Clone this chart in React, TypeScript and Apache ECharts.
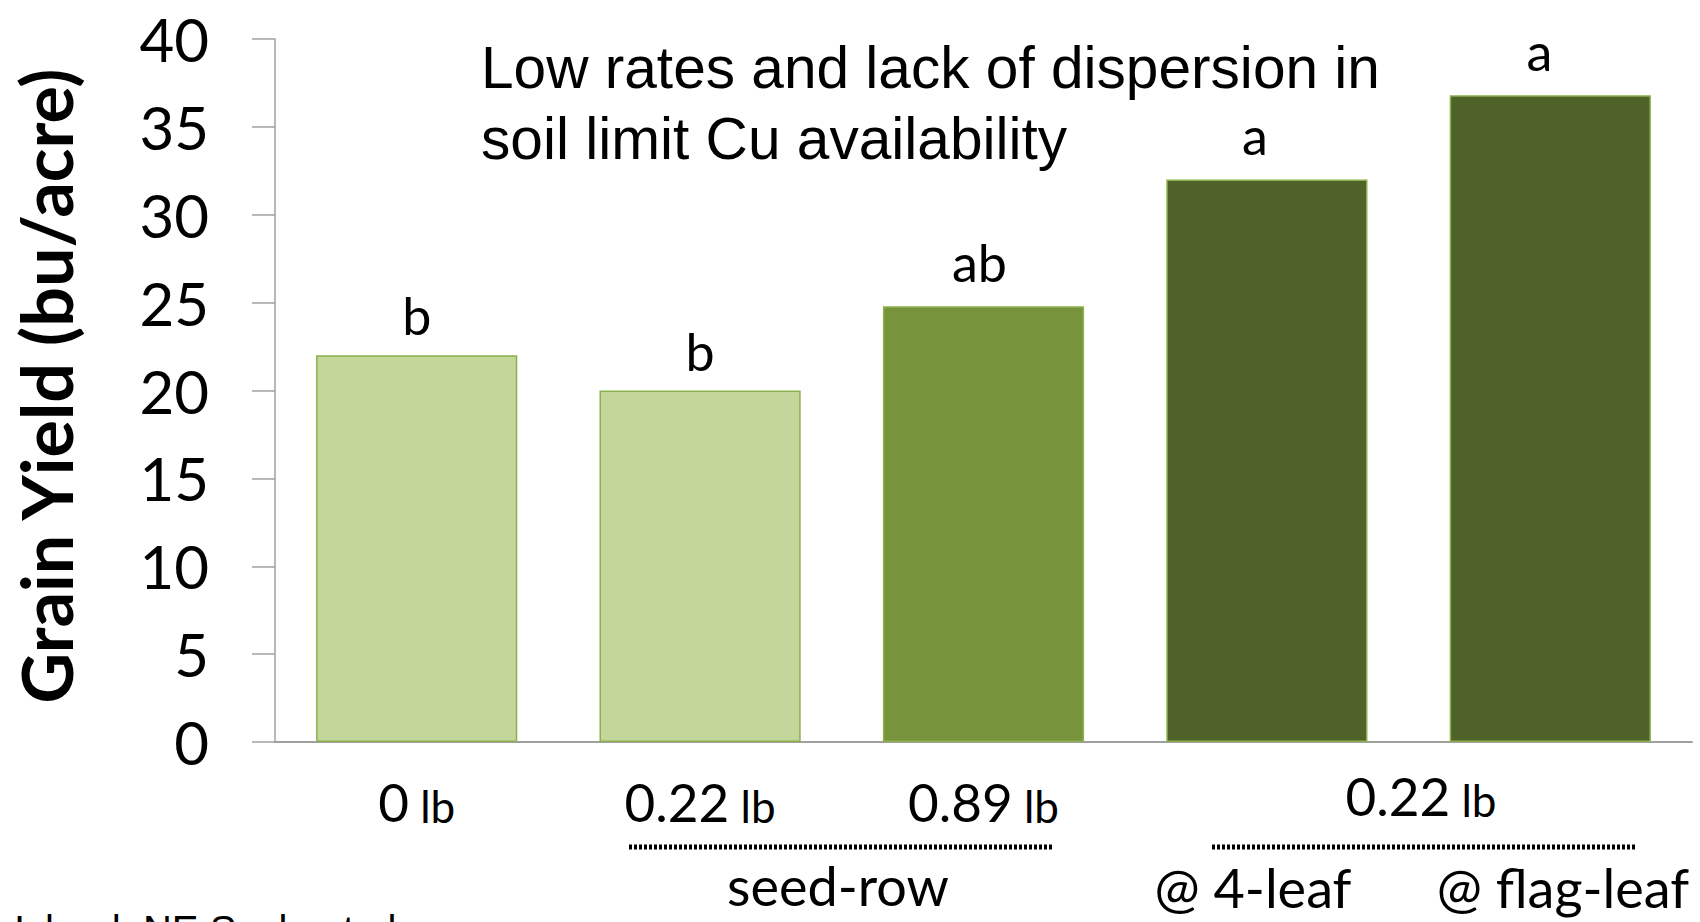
import React, { useEffect, useRef } from "react";
import * as echarts from "echarts";

const categories = ["0 lb", "0.22 lb", "0.89 lb", "0.22 lb @ 4-leaf", "0.22 lb @ flag-leaf"];
const rateNumbers = ["0", "0.22", "0.89", "", ""];
const rateUnit = "lb";
const yields = [22, 20, 24.8, 32, 36.8];
const letters = ["b", "b", "ab", "a", "a"];
const barColors = ["#C4D79B", "#C4D79B", "#77933C", "#4F6228", "#4F6228"];
const yMin = 0;
const yMax = 40;
const yStep = 5;
const yTitle = "Grain Yield (bu/acre)";
const titleLines = ["Low rates and lack of dispersion in", "soil limit Cu availability"];
const groupRateNumber = "0.22";
const seedRowLabel = "seed-row";
const foliarLabels = ["@ 4-leaf", "@ flag-leaf"];
const sourceNote = "Island, NE Sask. et al.";

const CAL = 'Lato, "Open Sans", sans-serif';
const ARIAL = '"Liberation Sans", Arial, sans-serif';

const richRate = {
  n: { fontFamily: CAL, fontSize: 53, color: "#000", fill: "#000", verticalAlign: "bottom", lineHeight: 60 },
  u: { fontFamily: CAL, fontSize: 44, color: "#000", fill: "#000", verticalAlign: "bottom", lineHeight: 60 },
};

const labelOffsets = [[0, 0], [0, 0], [-4, -4], [-12, -5], [-11, -4]];

export default function App() {
  const ref = useRef<HTMLDivElement>(null);
  useEffect(() => {
    if (!ref.current) return;
    const chart = echarts.init(ref.current, null, { renderer: "svg" });
    const option: any = {
      animation: false,
      backgroundColor: "#ffffff",
      grid: { left: 275, right: 8, top: 39, bottom: 180, containLabel: false },
      xAxis: {
        type: "category",
        data: categories,
        axisLine: { show: true, lineStyle: { color: "#A0A0A0", width: 2 } },
        axisTick: { show: false },
        axisLabel: {
          interval: 0,
          margin: 26,
          formatter: (_v: string, i: number) =>
            rateNumbers[i] ? `{n|${rateNumbers[i]}}{u|\u00a0${rateUnit}}` : "",
          rich: richRate,
        },
      },
      yAxis: {
        type: "value",
        min: yMin,
        max: yMax,
        interval: yStep,
        axisLine: { show: true, lineStyle: { color: "#A0A0A0", width: 1.5 } },
        axisTick: { show: true, length: 23, lineStyle: { color: "#A0A0A0", width: 1.5 } },
        splitLine: { show: false },
        axisLabel: { fontFamily: CAL, fontSize: 60, color: "#000", margin: 66 },
      },
      series: [
        {
          type: "bar",
          barCategoryGap: "29%",
          data: yields.map((v, i) => ({
            value: v,
            itemStyle: { color: barColors[i], borderColor: "#8DB04E", borderWidth: 1.5 },
            label: { formatter: letters[i], offset: labelOffsets[i] },
          })),
          label: {
            show: true,
            position: "top",
            distance: 14,
            fontFamily: CAL,
            fontSize: 52,
            color: "#000",
          },
        },
      ],
      graphic: [
        {
          type: "text", x: 46, y: 386, rotation: Math.PI / 2,
          style: { text: yTitle, font: `bold 70px ${CAL}`, fill: "#000", align: "center", verticalAlign: "middle" },
        },
        { type: "text", left: 481, top: 38, style: { text: titleLines[0], font: `58.6px ${ARIAL}`, fill: "#000" } },
        { type: "text", left: 481, top: 109, style: { text: titleLines[1], font: `58.6px ${ARIAL}`, fill: "#000" } },
        {
          type: "text", x: 1421, y: 792,
          style: { text: `{n|${groupRateNumber}}{u|\u00a0${rateUnit}}`, align: "center", verticalAlign: "middle", rich: richRate },
        },
        { type: "line", shape: { x1: 629, y1: 847, x2: 1052, y2: 847 }, style: { stroke: "#000", lineWidth: 5, lineDash: [3, 2] } },
        { type: "line", shape: { x1: 1212, y1: 847, x2: 1637, y2: 847 }, style: { stroke: "#000", lineWidth: 5, lineDash: [3, 2] } },
        { type: "text", x: 838, y: 885, style: { text: seedRowLabel, font: `54px ${CAL}`, fill: "#000", align: "center", verticalAlign: "middle" } },
        { type: "text", x: 1253, y: 887, style: { text: foliarLabels[0], font: `54px ${CAL}`, fill: "#000", align: "center", verticalAlign: "middle" } },
        { type: "text", x: 1563, y: 887, style: { text: foliarLabels[1], font: `54px ${CAL}`, fill: "#000", align: "center", verticalAlign: "middle" } },
        { type: "text", x: 14, y: 910, style: { text: sourceNote, font: `40px ${ARIAL}`, fill: "#000", align: "left", verticalAlign: "top" } },
      ],
    };
    chart.setOption(option);
    return () => chart.dispose();
  }, []);
  return <div ref={ref} style={{ position: "absolute", left: 0, top: 0, width: 1700, height: 922 }} />;
}
